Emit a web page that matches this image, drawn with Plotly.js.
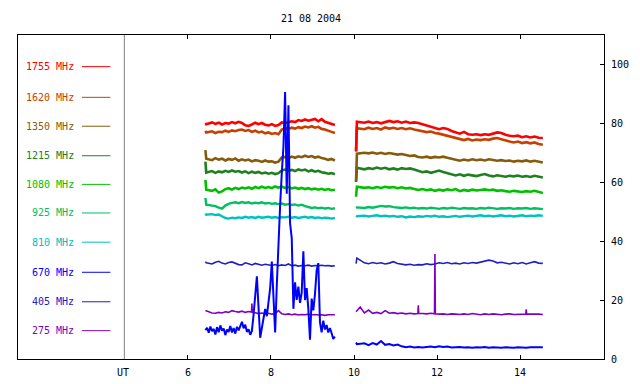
<!DOCTYPE html>
<html>
<head>
<meta charset="utf-8">
<script src="https://cdn.plot.ly/plotly-3.0.1.min.js"></script>
<style>html,body{margin:0;padding:0;background:#fff}#chart{width:640px;height:384px}</style>
</head>
<body>
<div id="chart"></div>
<script>
// Time axis (UT hours), first observing block and second observing block
var T1 = [6.42, 6.44, 6.58, 6.66, 6.74, 6.82, 6.90, 6.98, 7.06, 7.14, 7.22, 7.30, 7.38, 7.46, 7.54, 7.62, 7.70, 7.78, 7.86, 7.94, 8.02, 8.10, 8.18, 8.26, 8.34, 8.42, 8.50, 8.58, 8.66, 8.74, 8.82, 8.90, 8.98, 9.06, 9.14, 9.22, 9.30, 9.38, 9.46, 9.54];
var T2 = [10.05, 10.07, 10.25, 10.35, 10.45, 10.55, 10.65, 10.75, 10.85, 10.95, 11.05, 11.15, 11.25, 11.35, 11.45, 11.55, 11.65, 11.75, 11.85, 11.95, 12.05, 12.15, 12.25, 12.35, 12.45, 12.55, 12.65, 12.75, 12.85, 12.95, 13.05, 13.15, 13.25, 13.35, 13.45, 13.55, 13.65, 13.75, 13.85, 13.95, 14.05, 14.15, 14.25, 14.35, 14.45, 14.55];
var GAP_T = 9.8;

// 670 MHz has a finer time sampling in block 1 (burst)
var T670a = [6.42, 6.46, 6.50, 6.54, 6.58, 6.62, 6.66, 6.70, 6.74, 6.78, 6.82, 6.86, 6.90, 6.94, 6.98, 7.02, 7.06, 7.10, 7.14, 7.18, 7.22, 7.26, 7.30, 7.34, 7.38, 7.42, 7.46, 7.50, 7.54, 7.58, 7.62, 7.66, 7.70, 7.74, 7.78, 7.82, 7.86, 7.90, 7.94, 7.98, 8.02, 8.06, 8.10, 8.14, 8.18, 8.22, 8.26, 8.30, 8.34, 8.38, 8.42, 8.46, 8.50, 8.54, 8.58, 8.62, 8.66, 8.70, 8.74, 8.78, 8.82, 8.86, 8.90, 8.94, 8.98, 9.02, 9.06, 9.10, 9.14, 9.18, 9.22, 9.26, 9.30, 9.34, 9.38, 9.42, 9.46, 9.50, 9.54];
// 275 MHz sampled with its short spikes
var T275a = [6.42, 6.50, 6.58, 6.66, 6.74, 6.82, 6.90, 6.98, 7.06, 7.14, 7.22, 7.30, 7.38, 7.46, 7.53, 7.54, 7.55, 7.62, 7.70, 7.78, 7.86, 7.94, 8.02, 8.10, 8.18, 8.26, 8.34, 8.42, 8.50, 8.58, 8.66, 8.74, 8.82, 8.90, 8.98, 9.06, 9.14, 9.22, 9.30, 9.38, 9.46, 9.54];
var T275b = [10.05, 10.15, 10.25, 10.35, 10.45, 10.55, 10.65, 10.75, 10.85, 10.95, 11.05, 11.15, 11.25, 11.35, 11.45, 11.54, 11.55, 11.56, 11.65, 11.75, 11.85, 11.94, 11.95, 11.96, 12.05, 12.15, 12.25, 12.35, 12.45, 12.55, 12.65, 12.75, 12.85, 12.95, 13.05, 13.15, 13.25, 13.35, 13.45, 13.55, 13.65, 13.75, 13.85, 13.95, 14.05, 14.14, 14.15, 14.16, 14.25, 14.35, 14.45, 14.55];

// Series values
var f1755a = [80.0, 79.6, 80.2, 79.7, 80.1, 79.5, 80.0, 79.8, 80.3, 79.9, 80.4, 80.0, 79.2, 79.0, 79.5, 80.1, 79.6, 80.0, 79.4, 79.2, 79.6, 79.0, 79.3, 80.2, 80.0, 80.3, 80.6, 80.3, 81.0, 80.7, 81.2, 80.8, 81.0, 81.4, 80.6, 81.3, 80.4, 80.0, 79.6, 79.3];
var f1755b = [70.3, 80.4, 80.1, 80.5, 80.0, 80.3, 79.9, 80.2, 80.7, 80.3, 80.6, 80.1, 80.5, 80.0, 80.2, 80.0, 79.6, 79.3, 78.7, 78.3, 77.9, 78.3, 78.0, 77.3, 76.9, 76.4, 77.0, 76.2, 76.0, 76.2, 75.9, 76.2, 76.0, 76.3, 76.8, 76.6, 76.0, 75.7, 75.5, 75.7, 75.2, 75.5, 75.1, 75.4, 75.0, 74.9];
var f1620a = [77.3, 76.8, 77.2, 76.6, 77.0, 76.9, 77.4, 77.0, 77.5, 77.2, 77.6, 77.8, 77.3, 77.6, 77.0, 77.4, 76.8, 77.1, 76.5, 76.8, 76.3, 76.6, 76.2, 77.8, 78.2, 78.0, 78.4, 78.1, 78.6, 78.3, 78.8, 78.5, 78.9, 78.4, 78.7, 78.0, 77.8, 77.3, 77.0, 76.6];
var f1620b = [70.5, 78.2, 77.9, 78.4, 78.0, 78.3, 77.8, 78.5, 78.1, 78.4, 78.0, 78.3, 77.9, 78.2, 77.8, 77.5, 77.2, 76.9, 77.1, 76.6, 76.4, 76.0, 75.6, 75.2, 74.8, 74.5, 74.2, 74.6, 74.1, 74.4, 74.2, 74.5, 74.3, 74.7, 74.9, 74.5, 74.0, 73.7, 73.4, 73.7, 73.2, 73.5, 73.1, 73.4, 72.9, 72.6];
var f1350a = [70.8, 67.9, 67.4, 68.1, 67.6, 67.9, 67.3, 67.8, 67.5, 68.0, 67.2, 67.7, 67.3, 67.6, 67.0, 67.4, 67.2, 66.8, 67.3, 66.9, 67.0, 66.6, 66.9, 68.3, 68.5, 68.0, 68.6, 68.2, 68.7, 68.4, 68.9, 68.5, 68.8, 68.3, 68.6, 68.1, 67.9, 67.5, 67.8, 67.3];
var f1350b = [60.4, 69.6, 69.9, 69.7, 70.0, 69.6, 69.9, 69.5, 69.8, 69.6, 69.3, 69.5, 69.1, 68.8, 69.0, 68.5, 68.3, 68.6, 68.2, 68.5, 68.3, 68.6, 68.2, 67.9, 67.5, 67.2, 67.6, 67.3, 67.7, 67.4, 67.6, 67.3, 67.7, 67.5, 67.2, 67.4, 67.1, 67.3, 66.9, 67.2, 67.0, 67.3, 66.9, 67.2, 67.0, 66.6];
var f1215a = [66.9, 63.2, 63.7, 63.1, 63.6, 63.3, 63.8, 63.4, 63.9, 63.5, 63.7, 63.2, 63.6, 63.0, 63.5, 63.1, 63.4, 62.9, 63.2, 62.8, 63.1, 62.7, 63.0, 63.9, 64.2, 63.8, 64.1, 63.7, 64.3, 63.9, 64.2, 63.6, 64.0, 63.5, 63.8, 63.3, 63.1, 62.8, 63.0, 62.6];
var f1215b = [60.0, 64.8, 64.3, 64.7, 64.4, 64.9, 64.5, 64.8, 64.3, 64.6, 64.2, 64.7, 64.4, 64.6, 64.2, 63.8, 63.3, 63.6, 63.1, 63.5, 63.9, 63.4, 63.0, 62.6, 62.2, 62.6, 62.1, 62.5, 62.3, 62.0, 62.4, 62.7, 62.2, 61.9, 62.3, 62.0, 61.8, 62.1, 61.9, 62.2, 61.8, 62.0, 61.7, 62.1, 61.8, 61.5];
var f1080a = [60.7, 57.4, 57.0, 57.5, 56.4, 56.8, 57.6, 57.9, 57.4, 58.0, 57.6, 58.1, 57.8, 58.2, 57.7, 58.3, 57.9, 58.4, 58.0, 58.3, 57.9, 58.5, 58.1, 58.4, 58.0, 58.3, 57.8, 58.1, 57.7, 58.0, 57.6, 57.9, 57.5, 57.8, 57.4, 57.7, 57.3, 57.6, 57.2, 57.4];
var f1080b = [55.0, 58.4, 58.0, 58.2, 57.9, 58.3, 58.0, 58.4, 58.1, 58.3, 57.9, 58.2, 57.8, 58.0, 57.6, 57.3, 57.6, 57.2, 57.5, 57.0, 57.4, 57.1, 57.5, 57.2, 57.6, 56.9, 57.3, 57.0, 57.4, 57.1, 57.3, 57.5, 57.2, 57.4, 57.0, 57.2, 56.9, 56.7, 57.0, 56.8, 56.6, 56.9, 56.7, 57.0, 56.6, 56.3];
var f925a = [54.6, 52.3, 52.0, 51.8, 51.3, 51.0, 52.0, 52.6, 52.9, 53.1, 52.8, 53.2, 52.9, 53.1, 52.7, 53.0, 52.8, 53.1, 52.7, 52.9, 52.6, 52.8, 52.5, 52.7, 52.3, 52.5, 52.2, 52.4, 52.0, 52.3, 51.8, 51.5, 51.2, 51.4, 51.1, 51.3, 51.0, 51.2, 50.9, 51.1];
var f925b = [51.2, 51.4, 51.2, 51.5, 51.3, 51.6, 51.9, 51.7, 51.8, 51.5, 51.3, 51.2, 51.4, 51.1, 51.3, 51.0, 51.2, 51.0, 51.3, 51.1, 50.9, 51.2, 51.0, 51.3, 51.1, 50.9, 51.2, 51.0, 51.1, 50.9, 51.2, 51.0, 51.3, 51.1, 50.9, 51.1, 51.0, 51.2, 50.9, 51.1, 51.0, 51.2, 50.9, 51.1, 51.0, 50.8];
var f810a = [49.3, 48.9, 49.1, 48.8, 49.0, 48.4, 47.8, 47.6, 47.9, 47.7, 48.0, 47.8, 48.2, 47.9, 48.1, 47.8, 48.2, 47.9, 48.0, 48.2, 47.9, 48.1, 47.8, 48.1, 48.0, 48.2, 47.9, 48.1, 47.8, 48.0, 48.2, 47.9, 48.1, 47.8, 48.0, 47.7, 47.9, 47.8, 47.6, 47.8];
var f810b = [48.6, 48.4, 48.6, 48.3, 48.5, 48.7, 48.4, 48.6, 48.3, 48.5, 48.2, 48.4, 48.0, 48.3, 48.1, 48.4, 48.2, 48.5, 48.3, 48.6, 48.2, 48.4, 48.1, 48.3, 48.5, 48.2, 48.4, 48.6, 48.3, 48.5, 48.7, 48.4, 48.6, 48.3, 48.5, 48.7, 48.4, 48.6, 48.3, 48.5, 48.7, 48.4, 48.6, 48.5, 48.7, 48.5];
var f670a = [9.8, 10.6, 8.9, 11.0, 9.4, 10.2, 8.3, 10.8, 9.1, 11.4, 9.6, 10.3, 8.1, 10.0, 9.2, 11.2, 9.0, 10.5, 8.6, 10.9, 9.7, 11.3, 12.6, 10.4, 11.6, 9.2, 10.1, 8.2, 9.5, 15.0, 23.0, 28.0, 17.5, 7.2, 10.5, 14.0, 17.0, 14.5, 18.5, 24.0, 33.0, 20.0, 9.0, 25.0, 40.0, 52.0, 63.0, 72.0, 90.5, 56.0, 86.0, 46.0, 41.0, 17.0, 26.0, 20.0, 24.5, 19.0, 22.5, 36.5, 20.0, 24.0, 17.0, 6.5, 20.5, 16.5, 22.0, 30.0, 32.5, 12.5, 9.0, 13.0, 10.0, 11.5, 9.0, 10.5, 8.8, 6.8, 7.6];
var f670b = [5.6, 5.0, 5.3, 4.7, 5.4, 4.9, 6.1, 4.8, 5.1, 4.6, 4.9, 4.3, 4.0, 4.2, 3.9, 4.1, 3.9, 4.0, 4.2, 4.0, 4.3, 4.1, 4.2, 3.9, 4.0, 4.1, 3.9, 4.0, 3.8, 4.0, 3.9, 4.1, 3.8, 4.0, 3.9, 3.8, 4.0, 3.9, 3.8, 4.0, 3.9, 3.8, 4.0, 3.9, 4.0, 4.0];
var f405a = [33.0, 32.6, 32.2, 32.8, 33.1, 32.5, 32.2, 32.7, 32.9, 32.4, 32.0, 31.9, 32.6, 32.3, 31.9, 32.4, 32.2, 31.8, 32.1, 31.9, 31.7, 32.0, 31.6, 31.9, 31.7, 32.2, 31.6, 31.8, 31.5, 31.7, 31.6, 31.8, 31.5, 31.7, 31.6, 31.8, 31.6, 31.7, 31.5, 31.6];
var f405b = [32.3, 34.2, 32.6, 32.3, 32.7, 32.4, 32.6, 32.2, 32.5, 33.0, 32.4, 32.2, 31.9, 32.1, 31.8, 32.0, 31.9, 32.3, 32.0, 32.2, 32.6, 32.4, 32.7, 32.3, 32.5, 32.2, 32.6, 32.4, 32.7, 32.5, 32.9, 33.2, 33.5, 33.2, 32.6, 32.8, 32.4, 32.2, 32.6, 32.3, 32.7, 32.2, 32.6, 33.0, 32.5, 32.4];
var f275a = [16.4, 15.9, 15.6, 15.5, 15.8, 15.6, 16.0, 15.8, 16.4, 16.1, 15.9, 16.2, 15.8, 16.1, 15.9, 18.8, 15.8, 15.7, 15.4, 15.6, 15.3, 15.5, 15.2, 15.4, 16.4, 15.3, 15.1, 15.3, 15.0, 15.2, 14.9, 15.1, 15.0, 15.2, 14.9, 15.1, 14.9, 15.0, 14.8, 15.0, 14.9, 15.0];
var f275b = [16.0, 17.6, 15.6, 16.6, 15.5, 15.8, 15.4, 16.4, 15.5, 15.7, 15.4, 15.6, 15.3, 15.5, 15.3, 15.4, 18.2, 15.4, 15.4, 15.3, 15.5, 15.3, 35.6, 15.3, 15.2, 15.3, 15.1, 15.3, 15.2, 15.1, 15.3, 15.1, 15.4, 15.2, 15.0, 15.3, 15.1, 15.3, 15.2, 15.0, 15.2, 15.3, 15.1, 15.2, 15.3, 15.2, 16.8, 15.2, 15.2, 15.3, 15.2, 15.1];

// Legend labels (top to bottom)
var labels = ['1755 MHz', '1620 MHz', '1350 MHz', '1215 MHz', '1080 MHz', '925 MHz', '810 MHz', '670 MHz', '405 MHz', '275 MHz'];
var colors = ['#ff0000', '#c84000', '#865c0c', '#208020', '#00c000', '#00c060', '#00c0c0', '#0000ff', '#2020c0', '#8000c0'];
var legendY = [99.1, 88.7, 78.9, 68.9, 59.2, 49.5, 39.6, 29.4, 19.4, 9.6];
var xTicks = [6, 8, 10, 12, 14];
var yTicks = [0, 20, 40, 60, 80, 100];

function join(ta, va, tb, vb) {
  return { x: ta.concat([GAP_T], tb), y: va.concat([null], vb) };
}
var seriesSpec = [
  // drawn bottom-most first
  {i: 9, d: join(T275a, f275a, T275b, f275b), w: 1.6},
  {i: 8, d: join(T1, f405a, T2, f405b), w: 1.6},
  {i: 6, d: join(T1, f810a, T2, f810b), w: 2.4},
  {i: 5, d: join(T1, f925a, T2, f925b), w: 2.4},
  {i: 4, d: join(T1, f1080a, T2, f1080b), w: 2.6},
  {i: 3, d: join(T1, f1215a, T2, f1215b), w: 2.6},
  {i: 2, d: join(T1, f1350a, T2, f1350b), w: 2.6},
  {i: 1, d: join(T1, f1620a, T2, f1620b), w: 2.6},
  {i: 0, d: join(T1, f1755a, T2, f1755b), w: 2.6},
  {i: 7, d: join(T670a, f670a, T2, f670b), w: 2}
];
var traces = seriesSpec.map(function (s) {
  return {
    type: 'scatter', mode: 'lines', x: s.d.x, y: s.d.y, name: labels[s.i],
    connectgaps: false, line: {color: colors[s.i], width: s.w}, hoverinfo: 'skip'
  };
});

var MONO = 'DejaVu Sans Mono, monospace';
var annotations = [];
var shapes = [
  {type: 'line', xref: 'x', yref: 'paper', x0: 4.466, x1: 4.466, y0: 0, y1: 1, line: {color: '#808080', width: 1}}
];
labels.forEach(function (lab, k) {
  annotations.push({
    xref: 'x', yref: 'y', x: 3.29, y: legendY[k], text: lab, showarrow: false,
    xanchor: 'right', yanchor: 'middle', font: {family: MONO, size: 10, color: colors[k]}
  });
  shapes.push({type: 'line', xref: 'x', yref: 'y', x0: 3.446, x1: 4.13, y0: legendY[k], y1: legendY[k], line: {color: colors[k], width: 1}});
});
annotations.push({
  xref: 'x', yref: 'paper', x: 4.43, y: 0, yshift: -6, text: 'UT', showarrow: false,
  xanchor: 'center', yanchor: 'top', font: {family: MONO, size: 10, color: '#000'}
});

var layout = {
  width: 640, height: 384,
  margin: {l: 18, r: 36, t: 35, b: 25, pad: 0},
  paper_bgcolor: '#fff', plot_bgcolor: '#fff',
  showlegend: false,
  title: {text: '21 08 2004', x: 0.486, xanchor: 'center', y: 1 - 18 / 384, yanchor: 'middle',
          font: {family: MONO, size: 10, color: '#000'}},
  font: {family: MONO, size: 10, color: '#000'},
  xaxis: {
    range: [1.904, 16.024], tickvals: xTicks, ticktext: xTicks.map(String),
    ticks: 'inside', ticklen: 4, tickcolor: '#000', mirror: 'ticks',
    showline: true, linecolor: '#000', linewidth: 1, showgrid: false, zeroline: false,
    ticklabelstandoff: 4, tickfont: {family: MONO, size: 10, color: '#000'}
  },
  yaxis: {
    range: [0, 109.83], side: 'right', tickvals: yTicks, ticktext: yTicks.map(String),
    ticks: 'inside', ticklen: 4, tickcolor: '#000', mirror: true,
    showline: true, linecolor: '#000', linewidth: 1, showgrid: false, zeroline: false,
    ticklabelstandoff: 4, tickfont: {family: MONO, size: 10, color: '#000'}
  },
  annotations: annotations,
  shapes: shapes
};

Plotly.newPlot('chart', traces, layout, {staticPlot: true, displayModeBar: false});
</script>
</body>
</html>
